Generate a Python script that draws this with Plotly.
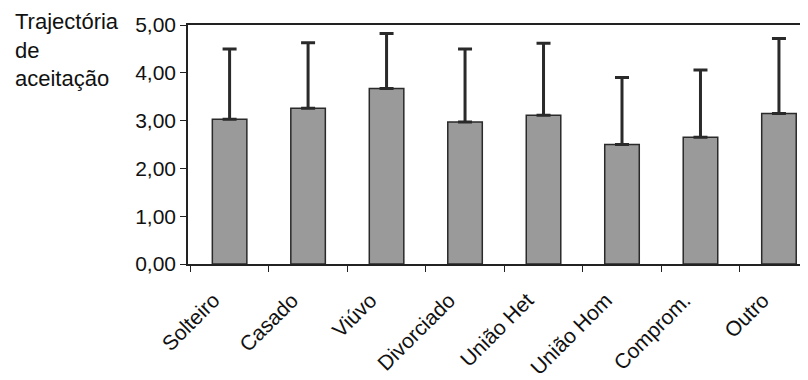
import plotly.graph_objects as go

categorias = ['Solteiro', 'Casado', 'Viúvo', 'Divorciado', 'União Het',
              'União Hom', 'Comprom.', 'Outro']
medias = [3.03, 3.26, 3.67, 2.97, 3.11, 2.50, 2.65, 3.15]
desvios = [1.47, 1.37, 1.15, 1.53, 1.51, 1.40, 1.41, 1.57]
y_ticks = [0, 1, 2, 3, 4, 5]

fig = go.Figure()
fig.add_trace(go.Bar(
    x=categorias,
    y=medias,
    marker=dict(color='#9a9a9a', line=dict(color='#2a2a2a', width=1.5)),
    error_y=dict(type='data', symmetric=False, array=desvios,
                 arrayminus=[0] * len(desvios),
                 color='#2a2a2a', thickness=3, width=7),
    width=0.44,
))

# page body has an 8px margin, so the figure is 800x372 and offset
fig.add_annotation(
    text='Trajectória<br>de<br>aceitação',
    xref='paper', yref='paper', x=-0.282, y=1.075,
    xanchor='left', yanchor='top', align='left', showarrow=False,
    font=dict(size=22, color='#111111'),
)

fig.update_xaxes(
    range=[-0.53, 7.37], automargin=False,
    showline=True, linecolor='#222222', linewidth=1.5, mirror=True,
    ticks='outside', tickson='boundaries', ticklen=6, tickcolor='#222222',
    tickangle=-45, ticklabelstandoff=14, ticklabelshift=-16,
    tickfont=dict(size=21, color='#111111'),
    showgrid=False,
)
fig.update_yaxes(
    range=[0, 5], tickvals=y_ticks, tickformat='.2f', automargin=False,
    showline=True, linecolor='#222222', linewidth=1.5,
    ticks='outside', ticklen=6, tickcolor='#222222',
    tickfont=dict(size=21, color='#111111'),
    showgrid=False, zeroline=False,
)
fig.update_layout(
    width=800, height=372,
    margin=dict(l=180, r=0, t=17, b=116),
    separators=',.',
    font=dict(family='Liberation Sans, Arial, sans-serif'),
    plot_bgcolor='white', paper_bgcolor='white',
    showlegend=False,
)

fig.write_html("out.html")
